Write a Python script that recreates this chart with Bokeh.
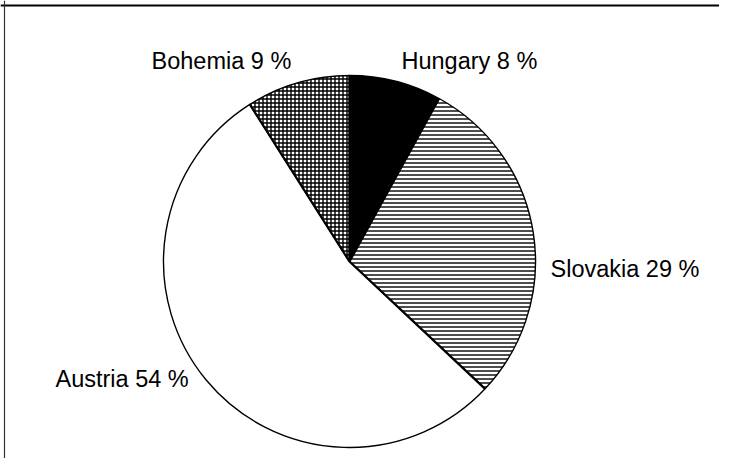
import numpy as np
from bokeh.plotting import figure
from bokeh.models import ColumnDataSource, Range1d, Span
from bokeh.core.properties import value
from bokeh.embed import file_html
from bokeh.resources import INLINE

# ---- data ----
regions = ["Hungary", "Slovakia", "Austria", "Bohemia"]
shares = [8, 29, 54, 9]
labels = ["Hungary 8 %", "Slovakia 29 %", "Austria 54 %", "Bohemia 9 %"]

# ---- styles ----
fills = ["black", "white", "white", "white"]
hatches = [" ", "horizontal_line", " ", "cross"]

# ---- layout (pixels within the figure) ----
W, H = 719, 458
cx, cy, R = 349, 197, 186
label_x = [401, 550, 55, 151]
label_y = [398, 190, 80, 398]

frac = np.array(shares, dtype=float) / sum(shares)
cum = np.cumsum(frac)
start = np.pi / 2 - 2 * np.pi * (cum - frac)
end = np.pi / 2 - 2 * np.pi * cum

src = ColumnDataSource(dict(region=regions, start=start, end=end,
                            fill=fills, hatch=hatches))

p = figure(width=W, height=H, x_range=Range1d(0, W), y_range=Range1d(0, H),
           output_backend="svg", toolbar_location=None, min_border=0)
p.axis.visible = False
p.grid.visible = False
p.outline_line_color = None
p.background_fill_color = "white"

p.wedge(x=cx, y=cy, radius=R, start_angle="start", end_angle="end",
        direction="clock", source=src, fill_color="fill",
        hatch_pattern="hatch", hatch_color="black", hatch_scale=4,
        hatch_weight=1.4, line_color="black", line_width=1.4)

# slice boundaries drawn a little heavier
p.ray(x=cx, y=cy, length=R, angle="start", source=src,
      line_color="black", line_width=2.2)

lsrc = ColumnDataSource(dict(x=label_x, y=label_y, text=labels))
p.text(x="x", y="y", text="text", source=lsrc, text_font=value("Liberation Sans"),
       text_font_size="23.5px", text_baseline="alphabetic", text_align="left",
       text_color="black")

p.add_layout(Span(location=453, dimension="width", line_color="black", line_width=2))
p.add_layout(Span(location=4, dimension="height", line_color="#333333", line_width=1.2))

open("out.html", "w").write(file_html(p, INLINE))
